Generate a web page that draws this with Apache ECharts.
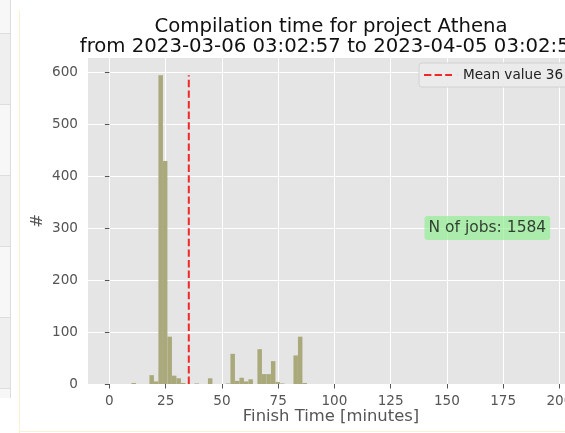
<!DOCTYPE html>
<html><head><meta charset="utf-8">
<script src="https://cdn.jsdelivr.net/npm/echarts@6/dist/echarts.min.js"></script>
<style>html,body{margin:0;padding:0;background:#fff;}#c{width:565px;height:433px;}</style>
</head><body><div id="c"></div>
<script>
const titleLines = ['Compilation time for project Athena', 'from 2023-03-06 03:02:57 to 2023-04-05 03:02:57'];
const xAxisName = 'Finish Time [minutes]';
const yAxisName = '#';
const xTicks = [0, 25, 50, 75, 100, 125, 150, 175, 200];
const yTicks = [0, 100, 200, 300, 400, 500, 600];
const binLefts = [9.8, 17.8, 19.8, 21.8, 23.8, 25.8, 27.8, 29.8, 31.8, 37.8, 43.8, 51.8, 53.8, 55.8, 57.8, 59.8, 61.8, 65.8, 67.8, 69.8, 71.8, 73.8, 75.8, 81.8, 83.8, 85.8];
const binCounts = [2, 17, 5, 594, 429, 91, 16, 11, 2, 1, 11, 1, 58, 6, 12, 5, 9, 67, 19, 19, 44, 4, 1, 55, 91, 2];
const binWidth = 2;
const meanValue = 35.3;
const meanLabel = 'Mean value 36';
const jobsLabel = 'N of jobs: 1584';
const jobsPos = [168, 300];

const FONT = "'DejaVu Sans', sans-serif";
const chart = echarts.init(document.getElementById('c'), null, {renderer: 'canvas'});
const histData = binLefts.map((l, i) => [l, l + binWidth, binCounts[i]]);
const maxCount = Math.max(...binCounts);

const option = {
  animation: false,
  backgroundColor: '#ffffff',
  textStyle: {fontFamily: FONT},
  grid: {left: 88, top: 58, width: 486, height: 326, show: true, backgroundColor: '#e5e5e5', borderWidth: 0,
    containLabel: false, outerBoundsMode: 'none'},
  legend: {
    data: [{name: meanLabel, icon: 'path://M0,0h7.4v2h-7.4zM10.6,0h7.4v2h-7.4zM21.2,0h6.8v2h-6.8zM33.9,0h0.1v2h-0.1z'}],
    left: 419, top: 63, orient: 'horizontal', symbolKeepAspect: false,
    padding: [5, 40, 5, 5], itemWidth: 34, itemHeight: 2, itemGap: 10,
    itemStyle: {color: '#f02828', borderWidth: 0},
    backgroundColor: '#ebebeb', borderColor: '#d2d2d2', borderWidth: 1, borderRadius: 3,
    textStyle: {fontFamily: FONT, fontSize: 13.6, color: '#222', lineHeight: 14}
  },
  xAxis: {
    type: 'value', min: -9.5, max: 206.5,
    axisLine: {show: false},
    axisTick: {show: true, length: 4.5, lineStyle: {color: '#555', width: 1}, customValues: xTicks},
    axisLabel: {customValues: xTicks, color: '#555', fontSize: 13.6, fontFamily: FONT, margin: 10},
    splitLine: {show: true, lineStyle: {color: '#ffffff', width: 1}},
    name: xAxisName, nameLocation: 'middle', nameGap: 25, nameMoveOverlap: false,
    nameTextStyle: {fontSize: 16.4, color: '#555', fontFamily: FONT}
  },
  yAxis: {
    type: 'value', min: 0, max: 627,
    axisLine: {show: false},
    axisTick: {show: true, length: 4.5, lineStyle: {color: '#555', width: 1}, customValues: yTicks},
    axisLabel: {customValues: yTicks, color: '#555', fontSize: 13.6, fontFamily: FONT, margin: 10},
    splitLine: {show: true, lineStyle: {color: '#ffffff', width: 1}},
    name: yAxisName, nameLocation: 'middle', nameGap: 42, nameRotate: 90, nameMoveOverlap: false,
    nameTextStyle: {fontSize: 16.4, color: '#555', fontFamily: FONT}
  },
  graphic: [
    {type: 'rect', shape: {x: 0, y: 0, width: 10, height: 398}, style: {fill: '#f7f7f7'}, silent: true, z: -10},
    {type: 'rect', shape: {x: 0, y: 33, width: 10, height: 72}, style: {fill: '#efefef'}, silent: true, z: -9},
    {type: 'rect', shape: {x: 0, y: 175, width: 10, height: 72}, style: {fill: '#efefef'}, silent: true, z: -9},
    {type: 'rect', shape: {x: 0, y: 317, width: 10, height: 71}, style: {fill: '#efefef'}, silent: true, z: -9},
    {type: 'line', shape: {x1: 10.5, y1: 0, x2: 10.5, y2: 398}, style: {stroke: '#dddddd', lineWidth: 1}, silent: true},
    {type: 'line', shape: {x1: 0, y1: 33.5, x2: 10, y2: 33.5}, style: {stroke: '#dddddd', lineWidth: 1}, silent: true},
    {type: 'line', shape: {x1: 0, y1: 104.5, x2: 10, y2: 104.5}, style: {stroke: '#dddddd', lineWidth: 1}, silent: true},
    {type: 'line', shape: {x1: 0, y1: 175.5, x2: 10, y2: 175.5}, style: {stroke: '#dddddd', lineWidth: 1}, silent: true},
    {type: 'line', shape: {x1: 0, y1: 246.5, x2: 10, y2: 246.5}, style: {stroke: '#dddddd', lineWidth: 1}, silent: true},
    {type: 'line', shape: {x1: 0, y1: 317.5, x2: 10, y2: 317.5}, style: {stroke: '#dddddd', lineWidth: 1}, silent: true},
    {type: 'line', shape: {x1: 0, y1: 388.5, x2: 10, y2: 388.5}, style: {stroke: '#dddddd', lineWidth: 1}, silent: true},
    {type: 'line', shape: {x1: 19.5, y1: 10, x2: 19.5, y2: 433}, style: {stroke: '#fbf1d6', lineWidth: 1}, silent: true},
    {type: 'line', shape: {x1: 19, y1: 431.5, x2: 565, y2: 431.5}, style: {stroke: '#fbf1d6', lineWidth: 1}, silent: true},
    {type: 'text', x: 331, y: 26.5, style: {text: titleLines[0], font: "19.7px 'DejaVu Sans', sans-serif", fill: '#111', textAlign: 'center', textVerticalAlign: 'middle'}, silent: true},
    {type: 'text', x: 331, y: 46.5, style: {text: titleLines[1], font: "19.7px 'DejaVu Sans', sans-serif", fill: '#111', textAlign: 'center', textVerticalAlign: 'middle'}, silent: true}
  ],
  series: [
    {
      type: 'custom', name: 'hist', data: histData, encode: {x: [0, 1], y: 2}, silent: true, z: 2,
      renderItem: function (params, api) {
        const p0 = api.coord([api.value(0), api.value(2)]);
        const p1 = api.coord([api.value(1), 0]);
        return {type: 'rect', shape: {x: p0[0], y: p0[1], width: p1[0] - p0[0], height: p1[1] - p0[1]}, style: {fill: '#a9a97b'}};
      }
    },
    {
      type: 'line', name: meanLabel, data: [[meanValue, 0], [meanValue, maxCount]], symbol: 'none', silent: true, z: 3,
      lineStyle: {color: '#f02828', width: 2, type: [7.4, 3.2]}, itemStyle: {color: '#f02828'}
    },
    {
      type: 'scatter', name: 'jobs', data: [jobsPos], symbolSize: 0, silent: true, z: 5,
      label: {show: true, position: 'inside', formatter: jobsLabel, fontFamily: FONT, fontSize: 15.5, color: '#111',
        backgroundColor: 'rgba(144,238,144,0.85)', padding: [4, 4, 4, 4], borderRadius: 3}
    }
  ]
};
chart.setOption(option);
</script></body></html>
